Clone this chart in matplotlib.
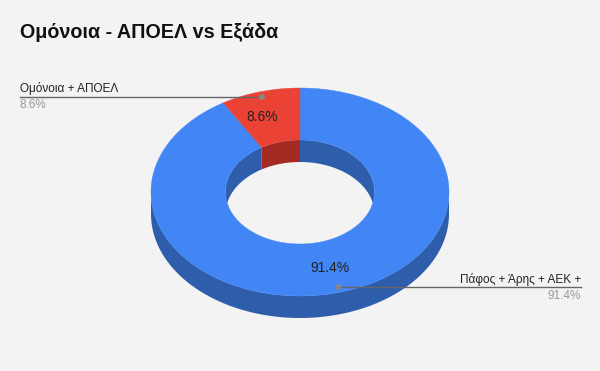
import numpy as np
import matplotlib
matplotlib.use("Agg")
import matplotlib.pyplot as plt
from matplotlib.patches import Polygon, Circle

plt.rcParams["font.family"] = ["Liberation Sans", "DejaVu Sans"]

# ── data ───────────────────────────────────────────────
labels = ["Πάφος + Άρης + ΑΕΚ +", "Ομόνοια + ΑΠΟΕΛ"]
values = [91.4, 8.6]
title = "Ομόνοια - ΑΠΟΕΛ vs Εξάδα"

TOP = ["#4285F4", "#EA4335"]
SIDE = ["#2E5EAB", "#A32B23"]
BG = "#F3F3F3"

W, H = 600, 371
cx, cy, rx, ry, depth = 300, 192, 149, 104, 22
hole = 0.5


def pt(th, sx, sy, dy=0.0):
    th = np.radians(th)
    return np.column_stack([cx + sx * np.sin(th), cy + dy - sy * np.cos(th)])


def arc(a, b, sx, sy, dy=0.0):
    return pt(np.linspace(a, b, max(int(abs(b - a)) * 2, 4)), sx, sy, dy)


def clip(a, b, lo, hi):
    a2, b2 = max(a, lo), min(b, hi)
    return (a2, b2) if b2 > a2 else None


fig = plt.figure(figsize=(W / 100, H / 100), dpi=100, facecolor=BG)
ax = fig.add_axes([0, 0, 1, 1])
ax.set_xlim(0, W); ax.set_ylim(H, 0); ax.axis("off")
ax.set_facecolor(BG)

total = sum(values)
edges = np.concatenate([[0], np.cumsum(values) / total * 360])
spans = list(zip(edges[:-1], edges[1:]))

# inner back wall (visible where the far side of the hole is)
for i, (a, b) in enumerate(spans):
    for lo, hi in ((-90, 90), (270, 450)):
        c = clip(a, b, lo, hi)
        if c:
            poly = np.vstack([arc(c[0], c[1], rx * hole, ry * hole),
                              arc(c[1], c[0], rx * hole, ry * hole, depth)])
            ax.add_patch(Polygon(poly, closed=True, fc=SIDE[i], ec="none", zorder=1))
# outer front wall
for i, (a, b) in enumerate(spans):
    c = clip(a, b, 90, 270)
    if c:
        poly = np.vstack([arc(c[0], c[1], rx, ry), arc(c[1], c[0], rx, ry, depth)])
        ax.add_patch(Polygon(poly, closed=True, fc=SIDE[i], ec="none", zorder=2))
# top faces
for i, (a, b) in enumerate(spans):
    poly = np.vstack([arc(a, b, rx, ry), arc(b, a, rx * hole, ry * hole)])
    ax.add_patch(Polygon(poly, closed=True, fc=TOP[i], ec=TOP[i], lw=0.3, zorder=3))

# inner percentage labels
pct = [f"{v / total * 100:.1f}%" for v in values]
ax.text(330, 268, pct[0], fontsize=10, color="#222222", ha="center", va="center", zorder=5)
ax.text(262, 117, pct[1], fontsize=10, color="#222222", ha="center", va="center", zorder=5)

# leader lines and outside labels
ax.plot([20, 262], [97, 97], color="#666666", lw=1, zorder=4)
ax.add_patch(Circle((262, 97), 2.2, color="#888888", zorder=5))
ax.text(20, 92, labels[1], fontsize=8.5, color="#222222", ha="left", va="baseline")
ax.text(20, 108, pct[1], fontsize=8.5, color="#999999", ha="left", va="baseline")

ax.plot([338, 581], [287, 287], color="#666666", lw=1, zorder=4)
ax.add_patch(Circle((338, 287), 2.2, color="#888888", zorder=5))
ax.text(581, 283, labels[0], fontsize=8.5, color="#222222", ha="right", va="baseline")
ax.text(581, 299, pct[0], fontsize=8.5, color="#999999", ha="right", va="baseline")

ax.text(20, 38, title, fontsize=14.2, fontweight="bold", color="#111111", ha="left", va="baseline")

fig.savefig("out.png", dpi=100, facecolor=BG)
